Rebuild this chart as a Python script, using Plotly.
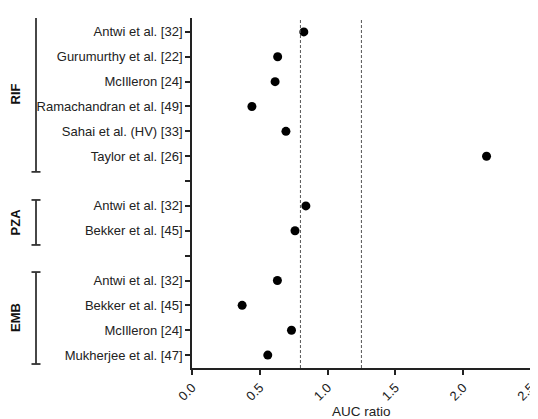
import plotly.graph_objects as go

# Data
study_labels = [
    "Antwi et al. [32]", "Gurumurthy et al. [22]", "McIlleron [24]",
    "Ramachandran et al. [49]", "Sahai et al. (HV) [33]", "Taylor et al. [26]",
    "",
    "Antwi et al. [32]", "Bekker et al. [45]",
    "",
    "Antwi et al. [32]", "Bekker et al. [45]", "McIlleron [24]", "Mukherjee et al. [47]",
]
auc_ratio = [0.825, 0.632, 0.613, 0.442, 0.693, 2.173,
             None,
             0.84, 0.76,
             None,
             0.63, 0.37, 0.734, 0.559]
ref_lines = [0.8, 1.25]
x_ticks = [0.0, 0.5, 1.0, 1.5, 2.0, 2.5]
x_tick_text = ["0.0", "0.5", "1.0", "1.5", "2.0", "2.5"]
groups = ["RIF", "PZA", "EMB"]
group_spans = [(-0.6, 5.63), (6.76, 8.57), (9.66, 13.36)]

slots = list(range(len(study_labels)))
px = [s for s, v in zip(slots, auc_ratio) if v is not None]
vx = [v for v in auc_ratio if v is not None]

FONT = "Liberation Sans, Arial, sans-serif"
fig = go.Figure()
fig.add_trace(go.Scatter(
    x=vx, y=px, mode="markers",
    marker=dict(color="black", size=9),
    showlegend=False, hoverinfo="x",
))

for xv in ref_lines:
    fig.add_shape(type="line", xref="x", yref="paper", x0=xv, x1=xv, y0=0, y1=1,
                  line=dict(color="#444", width=0.9, dash="3px,2px"))

# group brackets (pixel-like paper offsets left of the plot)
plot_w = 530 - 184 - 7
def px_to_paper(p):
    return (p - 192) / plot_w

bx = px_to_paper(36)
cap = 4.5 / plot_w
for name, (y0, y1) in zip(groups, group_spans):
    fig.add_shape(type="line", xref="paper", yref="y", x0=bx, x1=bx, y0=y0, y1=y1,
                  line=dict(color="#333", width=1.8))
    for yy in (y0, y1):
        fig.add_shape(type="line", xref="paper", yref="y", x0=bx - cap, x1=bx + cap,
                      y0=yy, y1=yy, line=dict(color="#333", width=1.8))
    fig.add_annotation(xref="paper", yref="y", x=px_to_paper(15), y=(y0 + y1) / 2,
                       xanchor="center", yanchor="middle",
                       text="<b>%s</b>" % name, textangle=-90, showarrow=False,
                       font=dict(family=FONT, size=13, color="#111"))

fig.add_annotation(xref="paper", yref="paper", x=0.5, y=0, yshift=-43,
                   yanchor="middle", text="AUC ratio", showarrow=False,
                   font=dict(family=FONT, size=13.5, color="#222"))

fig.update_layout(
    width=530, height=411,
    margin=dict(l=184, r=7, t=10, b=51),
    plot_bgcolor="white", paper_bgcolor="white",
    font=dict(family=FONT, size=13, color="#222"),
    xaxis=dict(range=[0, 2.501], tickvals=x_ticks, ticktext=x_tick_text,
               tickangle=-45, ticks="outside", ticklen=5, tickwidth=1.5,
               ticklabeloverflow="allow",
               tickcolor="#222", showline=True, linecolor="#222", linewidth=1.8,
               showgrid=False, zeroline=False, automargin=False),
    yaxis=dict(range=[13.52, -0.56], tickvals=slots, ticktext=study_labels,
               ticks="outside", ticklen=5, tickwidth=1.5, tickcolor="#222",
               showline=True, linecolor="#222", linewidth=1.8,
               showgrid=False, zeroline=False, automargin=False),
)

fig.write_html("out.html")
